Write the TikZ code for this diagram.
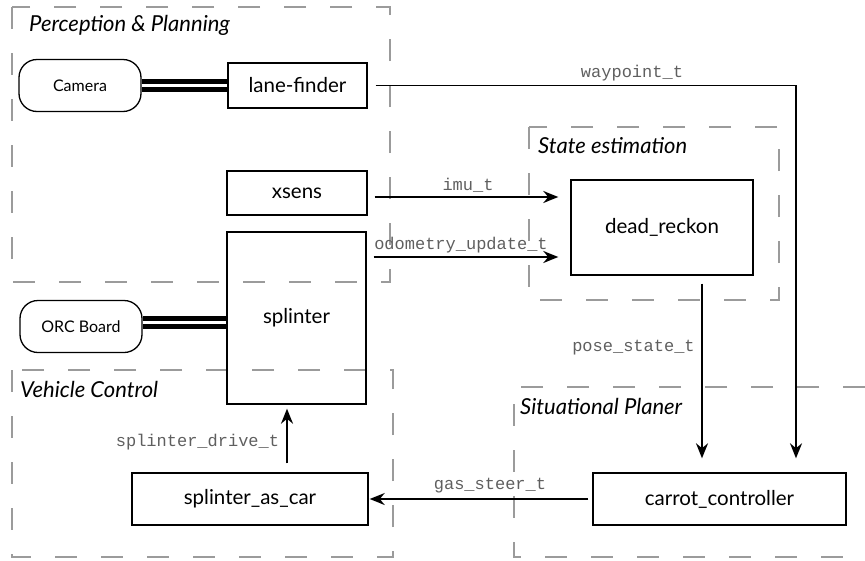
\documentclass[tikz,border=0pt]{standalone}
\usepackage{fontspec}
\setmainfont{Lato}
\setmonofont{Liberation Mono}
\usepackage{tikz}
\usetikzlibrary{arrows.meta}
\definecolor{groupgray}{RGB}{155,155,155}
\definecolor{msggray}{RGB}{95,95,95}

\begin{document}
\begin{tikzpicture}[x=1pt, y=-1pt,
    group/.style={draw=groupgray, line width=1.5pt, dash pattern=on 22pt off 24pt},
    grouptitle/.style={anchor=west, font=\fontsize{22}{22}\selectfont\itshape, inner sep=0pt},
    proc/.style={draw, line width=1.4pt, font=\fontsize{20.5}{20.5}\selectfont, inner sep=0pt},
    dev/.style={draw, line width=1.3pt, rounded corners=18pt, font=\fontsize{16}{16}\selectfont,
        minimum width=122pt, minimum height=52pt, inner sep=0pt},
    cable/.style={line width=5pt, double distance=3pt},
    msg/.style={line width=1.8pt, -{Stealth[length=15pt,width=12pt]}},
    msglabel/.style={font=\fontsize{17}{17}\selectfont\ttfamily, text=msggray, inner sep=0pt}]
    \useasboundingbox (0,0) rectangle (865,560);

    \draw[group] (12,7) rectangle (390,282);
    \draw[group] (529,127) rectangle (779,300);
    \draw[group] (12,370) rectangle (393,557);
    \draw[group] (865,387) -- (514,387) -- (514,557) -- (865,557);
    \node[grouptitle] (tpp) at (29,25) {Perception \& Planning};
    \node[grouptitle] (tse) at (538,146) {State estimation};
    \node[grouptitle] (tvc) at (20,389) {Vehicle Control};
    \node[grouptitle] (tsp) at (520,406) {Situational Planer};

    \node[dev] (cam) at (80,85.5) {Camera};
    \node[dev] (orc) at (81,326.5) {ORC Board};
    \node[proc, minimum width=139pt, minimum height=45pt] (lane) at (297.5,85.5) {lane-finder};
    \node[proc, minimum width=140pt, minimum height=44pt] (xsens) at (297,193) {xsens};
    \node[proc, minimum width=139pt, minimum height=172pt] (splinter) at (296.5,318) {splinter};
    \node[proc, minimum width=182pt, minimum height=95pt] (dead) at (662,227.5) {dead\_reckon};
    \node[proc, minimum width=236pt, minimum height=52pt] (sac) at (250,499) {splinter\_as\_car};
    \node[proc, minimum width=253pt, minimum height=52pt] (carrot) at (719.5,499) {carrot\_controller};

    \draw[cable] (cam) -- (lane);
    \coordinate (orcout) at ([yshift=4pt]orc.east);
    \draw[cable] (orcout) -- (orcout -| splinter.west);

    \draw[msg, shorten <=8pt, shorten >=14pt] (lane.east) -| ([xshift=76.5pt]carrot.north);
    \node[msglabel] (lwp) at (632,73) {waypoint\_t};

    \coordinate (imuout) at ([yshift=-4pt]xsens.east);
    \draw[msg, shorten <=7pt, shorten >=12pt] (imuout) -- (imuout -| dead.west);
    \node[msglabel] (limu) at (468,185) {imu\_t};

    \coordinate (odoout) at ([yshift=61pt]splinter.east);
    \draw[msg, shorten <=7pt, shorten >=12pt] (odoout) -- (odoout -| dead.west);
    \node[msglabel] (lodo) at (461,245) {odometry\_update\_t};

    \coordinate (poseout) at ([xshift=40pt]dead.south);
    \draw[msg, shorten <=8pt, shorten >=14pt] (poseout) -- (poseout |- carrot.north);
    \node[msglabel] (lpose) at (633.5,348) {pose\_state\_t};

    \draw[msg, shorten <=4pt, shorten >=1pt] (carrot) -- (sac);
    \node[msglabel] (lgas) at (490,486) {gas\_steer\_t};

    \coordinate (driveout) at ([xshift=37pt]sac.north);
    \draw[msg, shorten <=9pt, shorten >=4pt] (driveout) -- (driveout |- splinter.south);
    \node[msglabel] (ldrive) at (197.5,442) {splinter\_drive\_t};
\end{tikzpicture}
\end{document}
